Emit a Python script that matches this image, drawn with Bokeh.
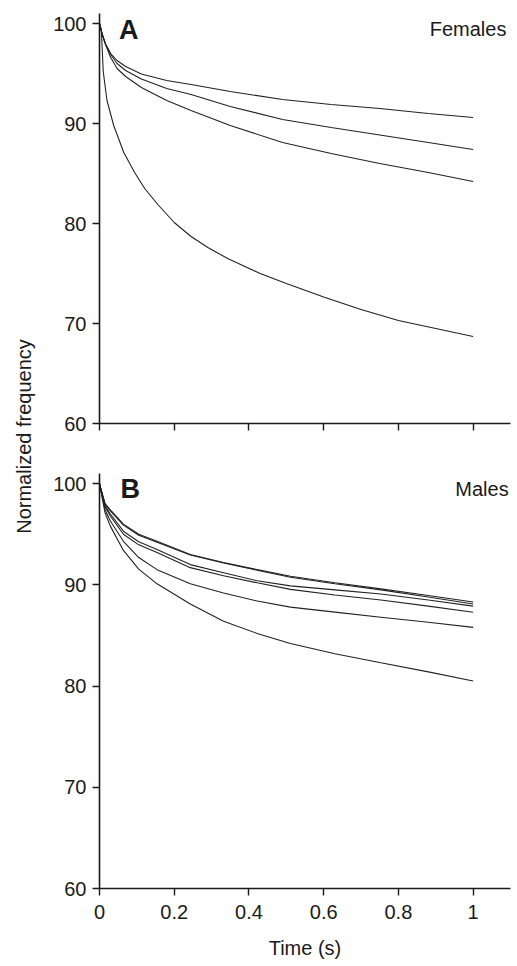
from bokeh.plotting import figure
from bokeh.layouts import column, row
from bokeh.models import Range1d, FixedTicker, Label, CustomLabelingPolicy
from bokeh.embed import file_html
from bokeh.resources import INLINE
import math

# ---- data ----
f_t_top = [0, 0.007, 0.016, 0.03, 0.047, 0.07, 0.112, 0.18, 0.245, 0.35, 0.49, 0.62, 0.75, 0.88, 1.0]
female_1 = [100, 98.95, 97.96, 97.0, 96.3, 95.7, 94.95, 94.3, 93.9, 93.2, 92.4, 91.9, 91.5, 91.0, 90.6]
female_2 = [100, 98.95, 97.96, 96.9, 96.0, 95.3, 94.45, 93.5, 92.9, 91.7, 90.4, 89.6, 88.85, 88.1, 87.4]
female_3 = [100, 98.95, 97.9, 96.6, 95.5, 94.7, 93.6, 92.3, 91.3, 89.8, 88.1, 87.0, 86.0, 85.1, 84.2]
f_t_low = [0, 0.005, 0.01, 0.02, 0.038, 0.065, 0.094, 0.121, 0.156, 0.2, 0.245, 0.29, 0.343,
           0.43, 0.5, 0.6, 0.7, 0.8, 0.9, 1.0]
female_4 = [100, 99.3, 95.2, 92.3, 89.8, 87.1, 85.1, 83.5, 81.9, 80.1, 78.7, 77.6, 76.5,
            75.0, 74.0, 72.65, 71.4, 70.3, 69.5, 68.7]

m_t = [0, 0.005, 0.015, 0.029, 0.064, 0.105, 0.154, 0.243, 0.332, 0.422, 0.511, 0.63, 0.753, 0.88, 1.0]
male_1 = [100, 99.3, 98.0, 97.4, 96.0, 95.0, 94.3, 93.0, 92.2, 91.5, 90.85, 90.2, 89.6, 88.95, 88.3]
male_2 = [100, 99.3, 98.0, 97.3, 95.9, 94.9, 94.2, 92.95, 92.15, 91.45, 90.75, 90.1, 89.5, 88.8, 88.1]
male_3 = [100, 99.2, 97.8, 97.0, 95.3, 94.25, 93.5, 92.0, 91.2, 90.4, 89.9, 89.5, 89.1, 88.5, 87.9]
male_4 = [100, 99.2, 97.7, 96.8, 95.0, 93.95, 93.2, 91.7, 90.9, 90.2, 89.55, 89.0, 88.5, 87.9, 87.3]
male_5 = [100, 99.1, 97.4, 96.3, 94.3, 92.7, 91.5, 90.1, 89.2, 88.4, 87.8, 87.3, 86.8, 86.3, 85.8]
male_6 = [100, 99.0, 97.1, 95.8, 93.4, 91.55, 90.1, 88.1, 86.4, 85.2, 84.2, 83.2, 82.3, 81.4, 80.5]

x_ticks = [0, 0.2, 0.4, 0.6, 0.8, 1.0]
x_tick_labels = {0: "0", 0.2: "0.2", 0.4: "0.4", 0.6: "0.6", 0.8: "0.8", 1.0: "1"}
y_ticks = [60, 70, 80, 90, 100]

FONT = "Liberation Sans"
INK = "#1a1a1a"
LINE = "#222222"


def style(p, show_x_labels):
    p.xgrid.visible = False
    p.ygrid.visible = False
    p.outline_line_color = None
    p.background_fill_color = None
    p.border_fill_color = None
    for ax in (p.xaxis[0], p.yaxis[0]):
        ax.axis_line_color = INK
        ax.axis_line_width = 1.6
        ax.major_tick_line_color = INK
        ax.major_tick_line_width = 1.4
        ax.major_tick_out = 7
        ax.major_tick_in = 0
        ax.minor_tick_line_color = None
        ax.major_label_text_font = FONT
        ax.major_label_text_font_size = "20px"
        ax.major_label_text_color = INK
        ax.axis_label_text_font = FONT
        ax.axis_label_text_font_style = "normal"
        ax.axis_label_text_font_size = "20px"
        ax.axis_label_text_color = INK
    p.xaxis.ticker = FixedTicker(ticks=x_ticks)
    p.yaxis.ticker = FixedTicker(ticks=y_ticks)
    p.yaxis.major_label_standoff = 6
    if show_x_labels:
        p.xaxis.major_label_overrides = x_tick_labels
        p.xaxis.major_label_standoff = 9
        p.xaxis.axis_label = "Time (s)"
        p.xaxis.axis_label_standoff = 15
    else:
        # ticks only, no tick labels drawn on the upper panel
        p.xaxis.major_label_policy = CustomLabelingPolicy(code="""
            for (const i of indices) { indices.unset(i) }
            return indices
        """)
        p.xaxis.major_label_standoff = 0


# ---- panel A ----
pa = figure(width=465, height=448, output_backend="svg", toolbar_location=None,
            x_range=Range1d(0, 1.1), y_range=Range1d(60, 101),
            min_border_left=51, min_border_right=3, min_border_top=13, min_border_bottom=25)
style(pa, False)
pa.line(f_t_top, female_1, line_color=LINE, line_width=1.1)
pa.line(f_t_top, female_2, line_color=LINE, line_width=1.1)
pa.line(f_t_top, female_3, line_color=LINE, line_width=1.1)
pa.line(f_t_low, female_4, line_color=LINE, line_width=1.1)
pa.add_layout(Label(x=0.052, y=99.37, text="A", text_font=FONT, text_font_style="bold",
                    text_font_size="27px", text_color=INK, text_baseline="alphabetic"))
pa.add_layout(Label(x=1.089, y=99.45, text="Females", text_font=FONT, text_font_size="20px",
                    text_color=INK, text_align="right", text_baseline="alphabetic"))

# ---- panel B ----
pb = figure(width=465, height=517, output_backend="svg", toolbar_location=None,
            x_range=Range1d(0, 1.1), y_range=Range1d(60, 101),
            min_border_left=51, min_border_right=3, min_border_top=25, min_border_bottom=77)
style(pb, True)
for ys in (male_1, male_2, male_3, male_4, male_5, male_6):
    pb.line(m_t, ys, line_color=LINE, line_width=1.1)
pb.add_layout(Label(x=0.056, y=99.42, text="B", text_font=FONT, text_font_style="bold",
                    text_font_size="27px", text_color=INK, text_baseline="alphabetic"))
pb.add_layout(Label(x=1.095, y=99.49, text="Males", text_font=FONT, text_font_size="20px",
                    text_color=INK, text_align="right", text_baseline="alphabetic"))

# ---- shared y-axis title ----
pl = figure(width=48, height=965, output_backend="svg", toolbar_location=None,
            x_range=Range1d(0, 48), y_range=Range1d(0, 965),
            min_border_left=0, min_border_right=0, min_border_top=0, min_border_bottom=0)
pl.axis.visible = False
pl.xgrid.visible = False
pl.ygrid.visible = False
pl.outline_line_color = None
pl.add_layout(Label(x=23, y=529, text="Normalized frequency", angle=math.pi / 2,
                    text_font=FONT, text_font_size="20px", text_color=INK,
                    text_align="center", text_baseline="middle"))

layout = row(pl, column(pa, pb))
open("out.html", "w").write(file_html(layout, INLINE))
